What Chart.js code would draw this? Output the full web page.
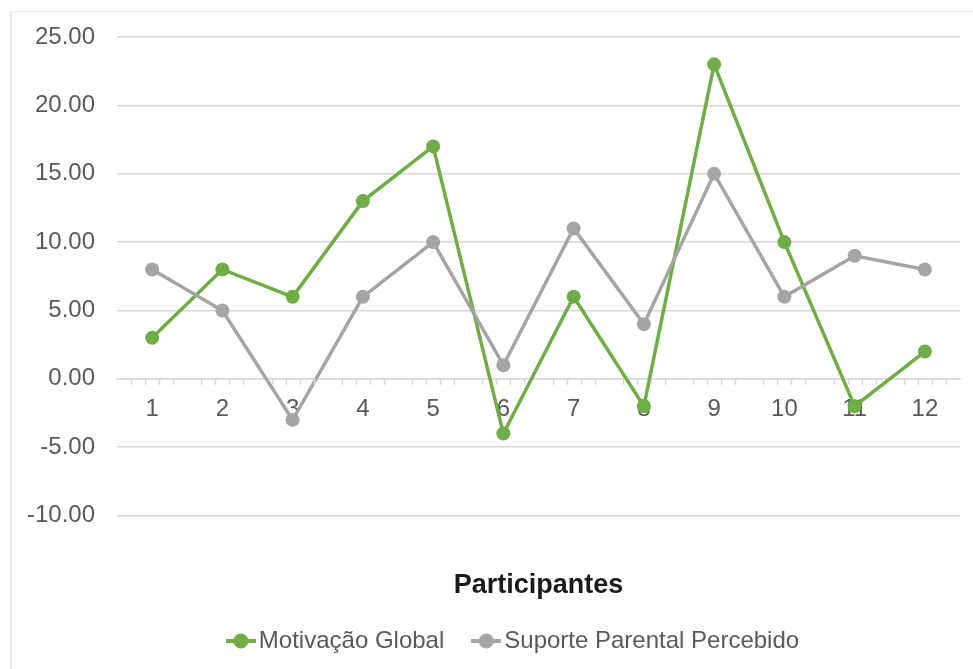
<!DOCTYPE html>
<html>
<head>
<meta charset="utf-8">
<script src="https://cdn.jsdelivr.net/npm/chart.js@4"></script>
<style>
  body { margin: 0; background: #fff; }
  #wrap { position: absolute; left: 10px; top: 11px; width: 963px; height: 658px;
          border-left: 2px solid #e8e8e8; border-top: 1px solid #ececec; }
</style>
</head>
<body>
<div id="wrap"><canvas id="chart" width="961" height="658"></canvas></div>
<script>
const participantes = ['1', '2', '3', '4', '5', '6', '7', '8', '9', '10', '11', '12'];
const motivacaoGlobal = [3, 8, 6, 13, 17, -4, 6, -2, 23, 10, -2, 2];
const suporteParental = [8, 5, -3, 6, 10, 1, 11, 4, 15, 6, 9, 8];

const green = '#70AD47';
const grey = '#A5A5A5';
const textGrey = '#595959';
const gridGrey = '#d9d9d9';

Chart.defaults.font.family = '"Liberation Sans", Arial, sans-serif';
Chart.defaults.font.size = 24;
Chart.defaults.color = textGrey;

// legend marker: short line with a dot on it
function marker(color) {
  const c = document.createElement('canvas');
  c.width = 30; c.height = 16;
  const g = c.getContext('2d');
  g.strokeStyle = color; g.lineWidth = 4;
  g.beginPath(); g.moveTo(0, 8); g.lineTo(30, 8); g.stroke();
  g.fillStyle = color;
  g.beginPath(); g.arc(15, 8, 7.5, 0, Math.PI * 2); g.fill();
  return c;
}

// small tick marks along the zero line
const minorTicks = {
  id: 'minorTicks',
  afterDatasetsDraw(chart) {
    const x = chart.scales.x, y = chart.scales.y;
    const ctx = chart.ctx;
    const step = (x.getPixelForValue(1) - x.getPixelForValue(0)) / 5;
    const y0 = y.getPixelForValue(0);
    ctx.save();
    ctx.strokeStyle = gridGrey;
    ctx.lineWidth = 1.5;
    ctx.beginPath();
    for (let i = 0; i < participantes.length; i++) {
      const left = x.getPixelForValue(i) - step * 2.5;
      for (let k = 1; k < 5; k++) {
        const px = Math.round(left + k * step) + 0.5;
        ctx.moveTo(px, y0);
        ctx.lineTo(px, y0 + 6);
      }
    }
    ctx.stroke();
    ctx.restore();
  }
};

// legend sits a bit right of the canvas centre in the original
const legendShift = {
  id: 'legendShift',
  afterLayout(chart) { chart.legend.left += 48; }
};

new Chart(document.getElementById('chart'), {
  type: 'line',
  data: {
    labels: participantes,
    datasets: [{
      label: 'Motivação Global',
      data: motivacaoGlobal,
      borderColor: green,
      backgroundColor: green,
      borderWidth: 3.5,
      pointRadius: 7,
      pointBorderWidth: 0,
      order: 1
    }, {
      label: 'Suporte Parental Percebido',
      data: suporteParental,
      borderColor: grey,
      backgroundColor: grey,
      borderWidth: 3.5,
      pointRadius: 7,
      pointBorderWidth: 0,
      order: 0
    }]
  },
  options: {
    responsive: false,
    animation: false,
    layout: { padding: { left: 14, right: 13, top: 0, bottom: 7 } },
    scales: {
      x: {
        position: { y: 0 },
        offset: true,
        grid: { display: false },
        border: { color: gridGrey, width: 1.5 },
        ticks: { padding: 8, color: textGrey }
      },
      y: {
        min: -10,
        max: 25,
        afterFit: s => { s.width = 91; s.paddingTop = 25; },
        ticks: {
          stepSize: 5,
          padding: 22,
          color: textGrey,
          callback: v => v.toFixed(2)
        },
        grid: { color: gridGrey, lineWidth: 1.5, drawTicks: false },
        border: { display: false }
      }
    },
    plugins: {
      title: {
        display: true,
        position: 'bottom',
        fullSize: false,
        text: 'Participantes',
        color: '#1a1a1a',
        font: { size: 27, weight: 'bold' },
        padding: { top: 54, bottom: -9 }
      },
      legend: {
        position: 'bottom',
        weight: 3000,
        labels: {
          usePointStyle: true,
          pointStyleWidth: 12,
          padding: 36,
          color: textGrey,
          sort: (a, b) => a.datasetIndex - b.datasetIndex,
          generateLabels: chart => chart.data.datasets.map((ds, i) => ({
            text: ds.label,
            datasetIndex: i,
            pointStyle: marker(ds.borderColor),
            fillStyle: ds.borderColor,
            strokeStyle: ds.borderColor,
            fontColor: textGrey,
            lineWidth: 0,
            hidden: false
          }))
        }
      },
      tooltip: { enabled: false }
    }
  },
  plugins: [minorTicks, legendShift]
});
</script>
</body>
</html>
